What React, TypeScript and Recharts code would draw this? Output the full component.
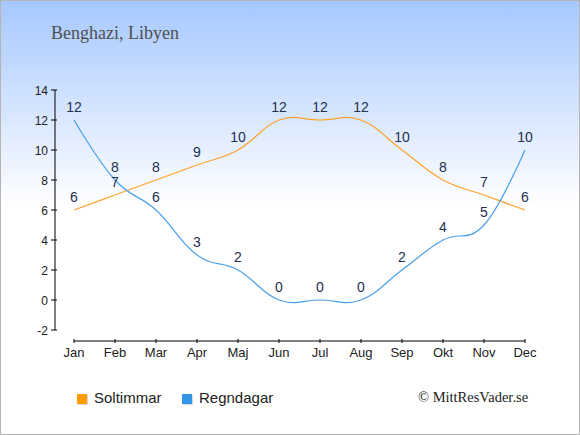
import React from 'react';
import { LineChart, Line, XAxis, YAxis, LabelList, ReferenceLine } from 'recharts';

const months = ['Jan', 'Feb', 'Mar', 'Apr', 'Maj', 'Jun', 'Jul', 'Aug', 'Sep', 'Okt', 'Nov', 'Dec'];
const sunHours = [6, 7, 8, 9, 10, 12, 12, 12, 10, 8, 7, 6];
const rainDays = [12, 8, 6, 3, 2, 0, 0, 0, 2, 4, 5, 10];
const yTicks = [-2, 0, 2, 4, 6, 8, 10, 12, 14];

const data = months.map((m, i) => ({ month: m, sun: sunHours[i], rain: rainDays[i] }));

const SUN = '#ffa12b';
const RAIN = '#4a9fec';
const LABEL = '#1f3050';
const AXIS_Y = -2.733; // x-axis line sits a bit below the -2 tick

// spline with control points from neighbours (Highcharts-like, no clamping)
const splineCurve: any = (context: any) => {
    let pts: [number, number][] = [];
    return {
        areaStart() {},
        areaEnd() {},
        lineStart() { pts = []; },
        point(x: number, y: number) { pts.push([+x, +y]); },
        lineEnd() {
            const n = pts.length;
            if (!n) return;
            const s = 1.5, d = s + 1;
            const left: [number, number][] = [];
            const right: [number, number][] = [];
            for (let i = 0; i < n; i++) {
                const [x, y] = pts[i];
                if (i === 0 || i === n - 1) {
                    left[i] = [x, y];
                    right[i] = [x, y];
                    continue;
                }
                const [px, py] = pts[i - 1];
                const [nx, ny] = pts[i + 1];
                const lx = (s * x + px) / d, ly = (s * y + py) / d;
                const rx = (s * x + nx) / d, ry = (s * y + ny) / d;
                const corr = ((ry - ly) * (rx - x)) / (rx - lx) + y - ry;
                left[i] = [lx, ly + corr];
                right[i] = [rx, ry + corr];
            }
            context.moveTo(pts[0][0], pts[0][1]);
            for (let i = 1; i < n; i++) {
                context.bezierCurveTo(right[i - 1][0], right[i - 1][1], left[i][0], left[i][1], pts[i][0], pts[i][1]);
            }
        },
    };
};

const MonthTick = (props: any) => {
    const { x, y, payload } = props;
    return (
        <g>
            <line x1={x} x2={x} y1={y + 9} y2={y + 13} stroke="#000" />
            <text x={x} y={y + 27} textAnchor="middle" fontSize={13} fill="#222" fontFamily="'Liberation Sans', Arial, sans-serif">
                {payload.value}
            </text>
        </g>
    );
};

const ValueTick = (props: any) => {
    const { x, y, payload } = props;
    return (
        <g>
            <line x1={x - 4} x2={x + 2} y1={y} y2={y} stroke="#000" />
            <text x={x - 7} y={y + 4.5} textAnchor="end" fontSize={12} fill="#222" fontFamily="'Liberation Sans', Arial, sans-serif">
                {payload.value}
            </text>
        </g>
    );
};

const labelStyle = { fill: LABEL, fontSize: 14, fontFamily: "'Liberation Sans', Arial, sans-serif" };

const App: React.FC = () => {
    const text = { position: 'absolute' as const, whiteSpace: 'nowrap' as const };
    const sans = "'Liberation Sans', Arial, sans-serif";
    const serif = "'Liberation Serif', 'Times New Roman', serif";

    return (
        <div style={{
            position: 'absolute',
            left: 0,
            top: 0,
            width: 580,
            height: 435,
            boxSizing: 'border-box',
            border: '1px solid #b4b4b4',
            background: 'linear-gradient(to bottom, #a6c8ff 0px, #ffffff 205px)',
            overflow: 'hidden',
        }}>
            <div style={{ position: 'absolute', left: -1, top: -1 }}>
                <LineChart width={580} height={435} data={data} margin={{ top: 90, right: 55, bottom: 75, left: 0 }}>
                    <XAxis
                        dataKey="month"
                        padding={{ left: 19, right: 0 }}
                        axisLine={false}
                        tickLine={false}
                        tickSize={0}
                        tickMargin={0}
                        interval={0}
                        height={30}
                        tick={<MonthTick />}
                    />
                    <YAxis
                        domain={[-2, 14]}
                        ticks={yTicks}
                        width={55}
                        interval={0}
                        axisLine={{ stroke: '#000' }}
                        tickLine={false}
                        tickSize={0}
                        tickMargin={0}
                        tick={<ValueTick />}
                    />
                    <ReferenceLine
                        segment={[{ x: 'Jan', y: AXIS_Y }, { x: 'Dec', y: AXIS_Y }]}
                        stroke="#000"
                        ifOverflow="visible"
                    />
                    <Line type={splineCurve} dataKey="sun" stroke={SUN} strokeWidth={1.2} dot={false} isAnimationActive={false}>
                        <LabelList dataKey="sun" position="top" offset={8} style={labelStyle} />
                    </Line>
                    <Line type={splineCurve} dataKey="rain" stroke={RAIN} strokeWidth={1.2} dot={false} isAnimationActive={false}>
                        <LabelList dataKey="rain" position="top" offset={8} style={labelStyle} />
                    </Line>
                </LineChart>
            </div>

            <div style={{ ...text, left: 50, top: 22, fontFamily: serif, fontSize: 18, lineHeight: '20px', color: '#505050' }}>
                Benghazi, Libyen
            </div>

            <div style={{ position: 'absolute', left: 76, top: 393, width: 10, height: 10, background: '#ff9c00', boxShadow: '1px 1px 0 #d8d8d8' }} />
            <div style={{ ...text, left: 93, top: 389, fontFamily: sans, fontSize: 15, lineHeight: '16px', color: '#222' }}>
                Soltimmar
            </div>
            <div style={{ position: 'absolute', left: 181, top: 393, width: 10, height: 10, background: '#3196e8', boxShadow: '1px 1px 0 #d8d8d8' }} />
            <div style={{ ...text, left: 198, top: 389, fontFamily: sans, fontSize: 15, lineHeight: '16px', color: '#222' }}>
                Regndagar
            </div>

            <div style={{ ...text, left: 417, top: 388, fontFamily: serif, fontSize: 14.5, lineHeight: '16px', color: '#222' }}>
                © MittResVader.se
            </div>
        </div>
    );
};

export default App;
